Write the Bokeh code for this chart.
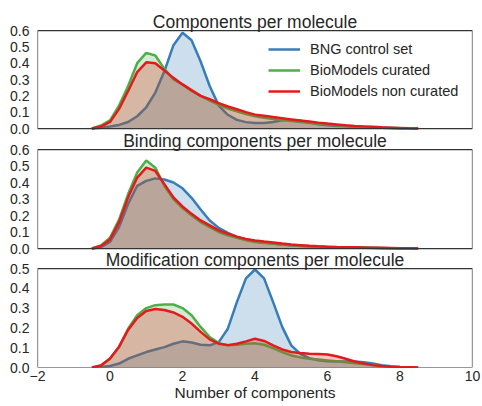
from bokeh.plotting import figure
from bokeh.models import (FixedTicker, Legend, LegendItem, Range1d, Label, BoxAnnotation)
from bokeh.embed import file_html
from bokeh.resources import INLINE

# ---- data ----
x_grid = [-0.5, -0.25, 0.0, 0.25, 0.5, 0.75, 1.0, 1.25, 1.5, 1.75, 2.0, 2.25, 2.5,
          2.75, 3.0, 3.25, 3.5, 3.75, 4.0, 4.25, 4.5, 4.75, 5.0, 5.25, 5.5, 5.75,
          6.0, 6.25, 6.5, 6.75, 7.0, 7.25, 7.5, 7.75, 8.0, 8.25, 8.5]

series_names = ["BNG control set", "BioModels curated", "BioModels non curated"]
series_colors = ["#377eb8", "#4daf4a", "#e41a1c"]

comp_bng = [0.000, 0.004, 0.012, 0.022, 0.040, 0.075, 0.130, 0.220, 0.350, 0.510, 0.586, 0.540, 0.410,
            0.260, 0.140, 0.084, 0.053, 0.039, 0.033, 0.034, 0.040, 0.050, 0.053, 0.047, 0.036, 0.026,
            0.020, 0.016, 0.013, 0.010, 0.008, 0.006, 0.004, 0.003, 0.002, 0.001, 0.000]
comp_cur = [0.000, 0.018, 0.050, 0.140, 0.260, 0.400, 0.463, 0.447, 0.365, 0.300, 0.270, 0.230, 0.200,
            0.170, 0.145, 0.122, 0.105, 0.088, 0.075, 0.065, 0.058, 0.052, 0.046, 0.040, 0.034, 0.029,
            0.025, 0.020, 0.016, 0.012, 0.009, 0.006, 0.004, 0.003, 0.002, 0.001, 0.000]
comp_non = [0.000, 0.012, 0.040, 0.120, 0.230, 0.345, 0.405, 0.400, 0.355, 0.310, 0.270, 0.235, 0.200,
            0.180, 0.155, 0.135, 0.118, 0.100, 0.085, 0.078, 0.070, 0.063, 0.055, 0.049, 0.043, 0.036,
            0.030, 0.025, 0.020, 0.016, 0.013, 0.010, 0.007, 0.005, 0.003, 0.001, 0.000]

bind_bng = [0.000, 0.008, 0.040, 0.130, 0.270, 0.380, 0.410, 0.425, 0.418, 0.400, 0.365, 0.307, 0.236,
            0.170, 0.125, 0.095, 0.070, 0.055, 0.045, 0.037, 0.030, 0.024, 0.019, 0.015, 0.012, 0.010,
            0.008, 0.007, 0.006, 0.005, 0.004, 0.003, 0.002, 0.002, 0.001, 0.001, 0.000]
bind_cur = [0.000, 0.018, 0.065, 0.175, 0.330, 0.460, 0.533, 0.490, 0.380, 0.300, 0.245, 0.200, 0.160,
            0.130, 0.100, 0.080, 0.065, 0.050, 0.040, 0.033, 0.028, 0.023, 0.019, 0.016, 0.013, 0.011,
            0.009, 0.008, 0.007, 0.006, 0.005, 0.004, 0.003, 0.002, 0.002, 0.001, 0.000]
bind_non = [0.000, 0.015, 0.055, 0.160, 0.310, 0.430, 0.490, 0.470, 0.390, 0.310, 0.255, 0.210, 0.170,
            0.140, 0.110, 0.090, 0.072, 0.058, 0.048, 0.042, 0.037, 0.030, 0.024, 0.020, 0.016, 0.013,
            0.011, 0.009, 0.008, 0.007, 0.006, 0.005, 0.004, 0.003, 0.002, 0.001, 0.000]

mod_bng = [0.000, 0.002, 0.008, 0.020, 0.044, 0.061, 0.078, 0.091, 0.103, 0.120, 0.132, 0.126, 0.115,
           0.112, 0.128, 0.196, 0.330, 0.450, 0.495, 0.450, 0.330, 0.205, 0.112, 0.069, 0.047, 0.036,
           0.032, 0.030, 0.030, 0.030, 0.027, 0.020, 0.012, 0.006, 0.003, 0.001, 0.000]
mod_cur = [0.000, 0.010, 0.044, 0.103, 0.196, 0.264, 0.300, 0.315, 0.318, 0.318, 0.300, 0.264, 0.205,
           0.154, 0.123, 0.112, 0.115, 0.120, 0.123, 0.115, 0.098, 0.078, 0.061, 0.051, 0.044, 0.040,
           0.036, 0.032, 0.027, 0.022, 0.018, 0.012, 0.006, 0.003, 0.001, 0.000, 0.000]
mod_non = [0.000, 0.010, 0.045, 0.105, 0.190, 0.250, 0.285, 0.295, 0.290, 0.278, 0.256, 0.222, 0.180,
           0.142, 0.120, 0.113, 0.120, 0.132, 0.145, 0.134, 0.112, 0.091, 0.078, 0.073, 0.070, 0.068,
           0.066, 0.057, 0.044, 0.030, 0.020, 0.012, 0.007, 0.004, 0.002, 0.001, 0.000]

panel_titles = ["Components per molecule", "Binding components per molecule",
                "Modification components per molecule"]
panel_data = [[comp_bng, comp_cur, comp_non], [bind_bng, bind_cur, bind_non],
              [mod_bng, mod_cur, mod_non]]
panel_ymax = [0.6, 0.6, 0.5]
panel_yticks = [[0.0, 0.1, 0.2, 0.3, 0.4, 0.5, 0.6], [0.0, 0.1, 0.2, 0.3, 0.4, 0.5, 0.6],
                [0.0, 0.1, 0.2, 0.3, 0.4, 0.5]]
x_ticks = [-2, 0, 2, 4, 6, 8, 10]
x_tick_labels = ["\u22122", "0", "2", "4", "6", "8", "10"]
x_label = "Number of components"
x_min, x_max = -2, 10

# ---- layout / style ----
FONT = "Liberation Sans"
TXT = "#262626"
EDGE = "#333333"
FRAME_W = 435
FRAME_H = 367
PANEL_PX = [(30, 128), (149, 248), (268, 367)]   # (top, bottom) of each panel, px from frame top
TICK_FS = "14px"
TITLE_FS = "17.5px"

# the shared frame's own y range is expressed in screen pixels (0 = frame bottom)
p = figure(frame_width=FRAME_W, frame_height=FRAME_H,
           x_range=Range1d(x_min, x_max), y_range=Range1d(0, FRAME_H),
           output_backend="svg", toolbar_location=None,
           min_border_left=37, min_border_right=9, min_border_top=0, min_border_bottom=0)
p.grid.visible = False
p.outline_line_color = None
p.background_fill_color = "white"
p.border_fill_color = "white"

xa = p.xaxis[0]
xa.ticker = FixedTicker(ticks=x_ticks)
xa.major_label_overrides = {t: lab for t, lab in zip(x_ticks, x_tick_labels)}
xa.axis_line_color = None
xa.major_tick_line_color = None
xa.minor_tick_line_color = None
xa.major_tick_in = 0
xa.major_tick_out = 0
xa.major_label_standoff = 3
xa.major_label_text_font = FONT
xa.major_label_text_font_size = TICK_FS
xa.major_label_text_color = TXT
xa.axis_label = x_label
xa.axis_label_standoff = 0
xa.axis_label_text_font = FONT
xa.axis_label_text_font_size = "15.5px"
xa.axis_label_text_font_style = "normal"
xa.axis_label_text_color = TXT

y_tick_pos = []
y_tick_text = {}
legend_lines = []
for i, (title, series, ymax, yticks) in enumerate(zip(panel_titles, panel_data, panel_ymax, panel_yticks)):
    top_px, bot_px = PANEL_PX[i]
    per_px = ymax / (bot_px - top_px)
    rname = "panel%d" % i
    p.extra_y_ranges[rname] = Range1d(-(FRAME_H - bot_px) * per_px, ymax + top_px * per_px)

    lines = []
    for ys, col in zip(series, series_colors):
        ln = p.line(x_grid, ys, line_color=col, line_width=2.5, y_range_name=rname)
        p.varea(x=x_grid, y1=[0.0] * len(x_grid), y2=ys, fill_color=col, fill_alpha=0.25,
                y_range_name=rname)
        lines.append(ln)
    if i == 0:
        legend_lines = lines

    # panel frame
    p.add_layout(BoxAnnotation(left=x_min, right=x_max, bottom=0, top=ymax, y_range_name=rname,
                               fill_alpha=0, line_color=EDGE, line_alpha=1.0, line_width=1.25))
    # y tick positions of this panel, expressed on the frame's pixel axis
    for t in yticks:
        pos = round((FRAME_H - bot_px) + t / per_px, 4)
        y_tick_pos.append(pos)
        y_tick_text[pos] = "%.1f" % t
    # panel title
    p.add_layout(Label(x=(x_min + x_max) / 2, y=ymax, y_range_name=rname, y_offset=9,
                       text=title, text_align="center", text_baseline="alphabetic",
                       text_font=FONT, text_font_size=TITLE_FS, text_color=TXT))

ya = p.yaxis[0]
ya.ticker = FixedTicker(ticks=y_tick_pos)
ya.major_label_overrides = y_tick_text
ya.axis_line_color = None
ya.major_tick_line_color = None
ya.minor_tick_line_color = None
ya.major_tick_in = 0
ya.major_tick_out = 0
ya.major_label_standoff = 8
ya.major_label_text_font = FONT
ya.major_label_text_font_size = TICK_FS
ya.major_label_text_color = TXT

legend_top = PANEL_PX[0][0] + 9
legend = Legend(items=[LegendItem(label=n, renderers=[r]) for n, r in zip(series_names, legend_lines)],
                location=(231, FRAME_H - legend_top - 62), orientation="vertical")
legend.border_line_color = None
legend.background_fill_alpha = 0
legend.padding = 0
legend.margin = 0
legend.spacing = 1
legend.glyph_width = 32
legend.glyph_height = 20
legend.label_height = 20
legend.label_standoff = 10
legend.label_text_font = FONT
legend.label_text_font_size = "14.5px"
legend.label_text_color = TXT
p.add_layout(legend)

open("out.html", "w").write(file_html(p, INLINE))
